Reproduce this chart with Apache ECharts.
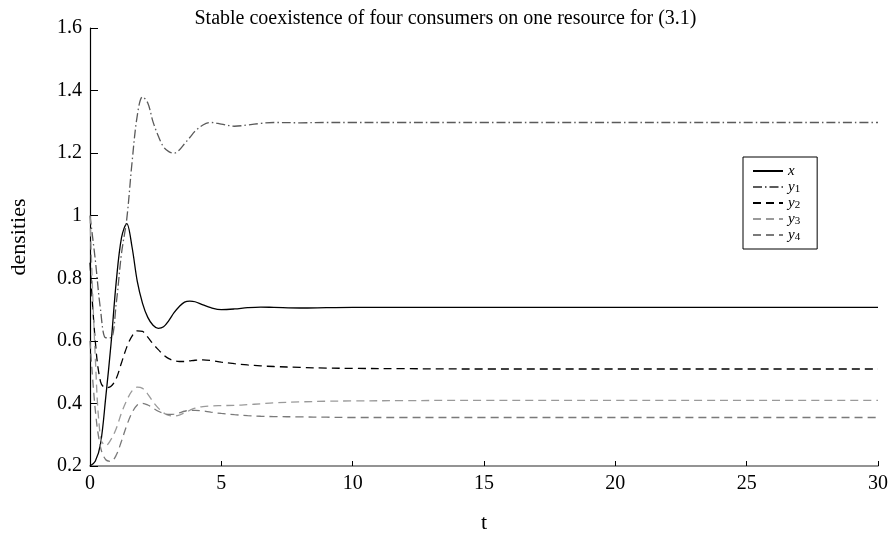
<!DOCTYPE html>
<html><head><meta charset="utf-8">
<script src="https://cdn.jsdelivr.net/npm/echarts@6/dist/echarts.min.js"></script>
<style>html,body{margin:0;padding:0;background:#fff}#c{width:891px;height:539px}</style>
</head><body><div id="c"></div>
<script>
const T = [0,0.2,0.4,0.6,0.8,1.0,1.2,1.4,1.6,1.8,2.0,2.2,2.4,2.6,2.8,3.0,3.2,3.4,3.6,3.8,4.0,4.3,4.6,5,5.5,6,6.5,7,8,9,10,12,15,20,25,30];
const X  = [0.2,0.215,0.27,0.42,0.59,0.79,0.93,0.975,0.90,0.79,0.72,0.675,0.65,0.64,0.645,0.665,0.69,0.71,0.724,0.727,0.725,0.715,0.706,0.70,0.702,0.706,0.708,0.707,0.705,0.706,0.707,0.707,0.707,0.707,0.707,0.707];
const Y1 = [1.0,0.86,0.70,0.61,0.61,0.72,0.88,0.99,1.17,1.32,1.38,1.36,1.30,1.255,1.22,1.205,1.20,1.21,1.23,1.25,1.27,1.29,1.298,1.293,1.286,1.29,1.295,1.298,1.297,1.298,1.298,1.298,1.298,1.298,1.298,1.298];
const Y2 = [0.85,0.60,0.47,0.45,0.455,0.48,0.53,0.58,0.615,0.632,0.63,0.612,0.59,0.572,0.555,0.543,0.537,0.534,0.534,0.536,0.538,0.539,0.537,0.532,0.527,0.523,0.52,0.518,0.515,0.513,0.512,0.511,0.51,0.51,0.51,0.51];
const Y3 = [1.0,0.55,0.29,0.265,0.285,0.32,0.37,0.41,0.44,0.452,0.448,0.43,0.405,0.385,0.37,0.362,0.36,0.363,0.37,0.378,0.385,0.39,0.392,0.393,0.394,0.396,0.399,0.402,0.405,0.407,0.408,0.409,0.41,0.41,0.41,0.41];
const Y4 = [0.6,0.38,0.26,0.22,0.215,0.235,0.28,0.33,0.37,0.395,0.40,0.395,0.385,0.375,0.368,0.365,0.366,0.37,0.375,0.378,0.378,0.376,0.372,0.368,0.364,0.361,0.359,0.358,0.357,0.356,0.355,0.355,0.355,0.355,0.355,0.355];
const NAMES = ['x','y1','y2','y3','y4'];
const TITLE = 'Stable coexistence of four consumers on one resource for (3.1)';
const XNAME = 't', YNAME = 'densities';

const pts = arr => T.map((t,i)=>[t,arr[i]]);
const serif = 'Liberation Serif, Times New Roman, serif';
const styles = [
  {color:'#000', type:'solid'},
  {color:'#5a5a5a', type:[9,3,1.5,3]},
  {color:'#000', type:[8,5]},
  {color:'#9a9a9a', type:[8,5]},
  {color:'#7a7a7a', type:[8,5]}
];
const data = [X,Y1,Y2,Y3,Y4];
const chart = echarts.init(document.getElementById('c'), null, {renderer:'canvas'});
chart.setOption({
  animation:false,
  backgroundColor:'#fff',
  title:{text:TITLE, left:'center', top:4, textStyle:{fontFamily:serif, fontSize:20, fontWeight:'normal', color:'#000'}},
  grid:{left:90, right:11, top:28, bottom:59},
  legend:{
    orient:'vertical', left:743, top:157, padding:[6,17,6,9],
    backgroundColor:'#fff', borderColor:'#000', borderWidth:1,
    itemWidth:30, itemHeight:12, itemGap:0,
    itemStyle:{opacity:0},
    data:NAMES,
    formatter: n => n.length>1 ? '{i|'+n[0]+'}{s|'+n.slice(1)+'}' : '{i|'+n+'}',
    textStyle:{fontFamily:serif, fontSize:15, color:'#000', lineHeight:16,
      rich:{i:{fontFamily:serif, fontStyle:'italic', fontSize:15, color:'#000', lineHeight:16},
            s:{fontFamily:serif, fontSize:11, color:'#000', lineHeight:8, verticalAlign:'bottom'}}}
  },
  xAxis:{type:'value', min:0, max:30, interval:5, name:XNAME, nameLocation:'middle', nameGap:46,
    nameTextStyle:{fontFamily:serif, fontSize:22, color:'#000'},
    axisLine:{lineStyle:{color:'#707070', width:1.5}},
    axisTick:{inside:true, length:5, lineStyle:{color:'#000'}},
    axisLabel:{fontFamily:serif, fontSize:20, color:'#000', margin:8},
    splitLine:{show:false}},
  yAxis:{type:'value', min:0.2, max:1.6, interval:0.2, name:YNAME, nameLocation:'middle', nameGap:60, nameRotate:90,
    nameTextStyle:{fontFamily:serif, fontSize:22, color:'#000', padding:[0,0,0,20]},
    axisLine:{lineStyle:{color:'#000', width:1.2}},
    axisTick:{inside:true, length:8, lineStyle:{color:'#000'}},
    axisLabel:{fontFamily:serif, fontSize:20, color:'#000', margin:8, formatter:v=>String(+v.toFixed(1))},
    splitLine:{show:false}},
  series: NAMES.map((n,i)=>({
    name:n, type:'line', data:pts(data[i]), symbol:'none', smooth:0.35,
    lineStyle:{color:styles[i].color, type:styles[i].type, width:1.3},
    itemStyle:{color:styles[i].color}
  }))
});
</script></body></html>
